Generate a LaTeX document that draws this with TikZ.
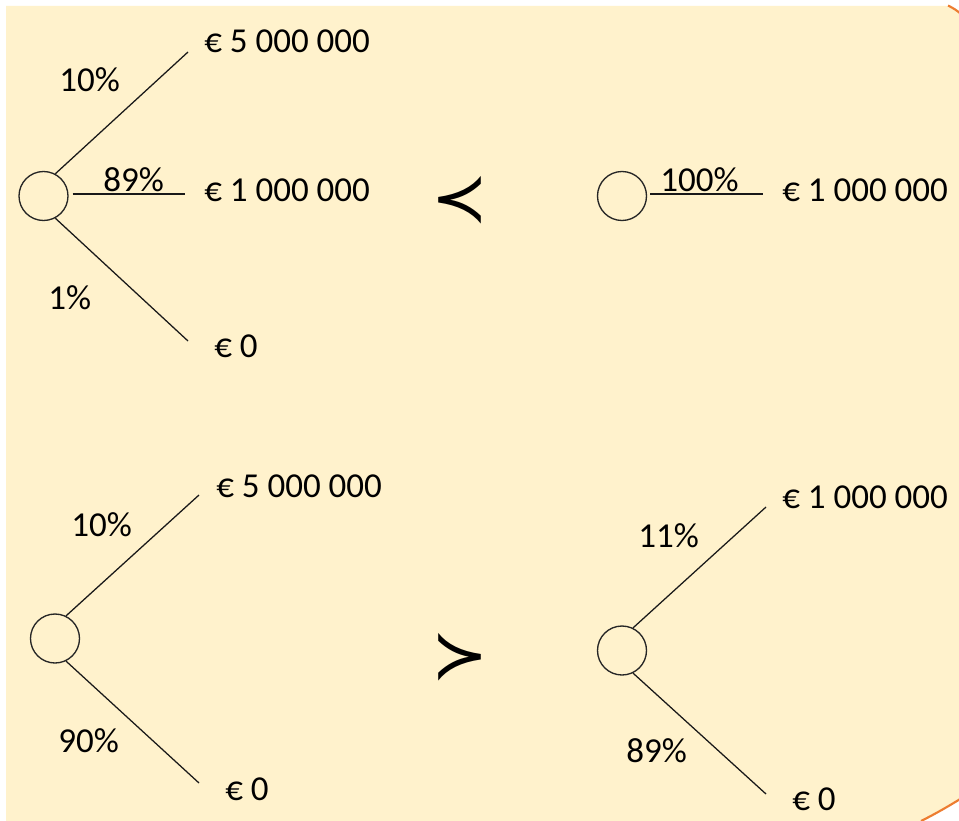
\documentclass[tikz,border=0pt]{standalone}
\usepackage{fontspec}
\setmainfont{Carlito}
\newfontfamily\relfont{DejaVu Sans}
\definecolor{bgfill}{HTML}{FFF2CC}
\definecolor{edgeorange}{HTML}{ED7D31}
\begin{document}
\begin{tikzpicture}[x=0.75pt,y=-0.75pt,
  lbl/.style={anchor=base west, inner sep=0pt, font=\fontsize{26.25}{30}\selectfont},
  chance/.style={circle, draw=black!85, line width=1pt, minimum size=36.75pt, inner sep=0pt},
  branch/.style={draw=black!90, line width=0.95pt},
  rel/.style={inner sep=0pt, font=\relfont\fontsize{51}{51}\selectfont},
  corner/.style={draw=edgeorange, line width=1.6pt}]
\useasboundingbox (0,0) rectangle (959,820);
\fill[white] (0,0) rectangle (959,820);
\fill[bgfill] (6,6) -- (949,6) -- (960,13) -- (960,799) -- (924,821) -- (6,821) -- cycle;
\draw[corner] (948,5.5) .. controls (953,8) and (957,10.5) .. (961,14);
\draw[corner] (961,798.5) .. controls (948,806.5) and (936,813.5) .. (921,821);

% top-left lottery
\node[chance] (A) at (43.5,196) {};
\coordinate (A1) at (188,52);
\coordinate (A2) at (185,194);
\coordinate (A3) at (188,341);
\draw[branch] (A.62) -- (A1);
\draw[branch] ([xshift=3pt,yshift=1.5pt]A.east) -- (A2);
\draw[branch] (A.-62) -- (A3);
\node[lbl] (A1p) at (59,92) {10\%};
\node[lbl] (A2p) at (103,191) {89\%};
\node[lbl] (A3p) at (48,309) {1\%};
\node[lbl] (A1o) at (204,53) {€ 5 000 000};
\node[lbl] (A2o) at (204,201) {€ 1 000 000};
\node[lbl] (A3o) at (214,357) {€ 0};

\node[rel] (R1) at (460,200) {≺};

% top-right lottery
\node[chance] (B) at (622,196) {};
\coordinate (B1) at (763,194);
\draw[branch] ([xshift=2.25pt,yshift=1.5pt]B.east) -- (B1);
\node[lbl] (B1p) at (660,191) {100\%};
\node[lbl] (B1o) at (782,201) {€ 1 000 000};

% bottom-left lottery
\node[chance] (C) at (55,638.5) {};
\coordinate (C1) at (199,495);
\coordinate (C2) at (199,783);
\draw[branch] (C.64) -- (C1);
\draw[branch] (C.-64) -- (C2);
\node[lbl] (C1p) at (71,536) {10\%};
\node[lbl] (C2p) at (58,752) {90\%};
\node[lbl] (C1o) at (216,497) {€ 5 000 000};
\node[lbl] (C2o) at (225,800) {€ 0};

\node[rel] (R2) at (460,657) {≻};

% bottom-right lottery
\node[chance] (D) at (622,650.5) {};
\coordinate (D1) at (766,507);
\coordinate (D2) at (766,794);
\draw[branch] (D.64) -- (D1);
\draw[branch] (D.-64) -- (D2);
\node[lbl] (D1p) at (638,547) {11\%};
\node[lbl] (D2p) at (626,762) {89\%};
\node[lbl] (D1o) at (782,508) {€ 1 000 000};
\node[lbl] (D2o) at (792,810) {€ 0};
\end{tikzpicture}
\end{document}
